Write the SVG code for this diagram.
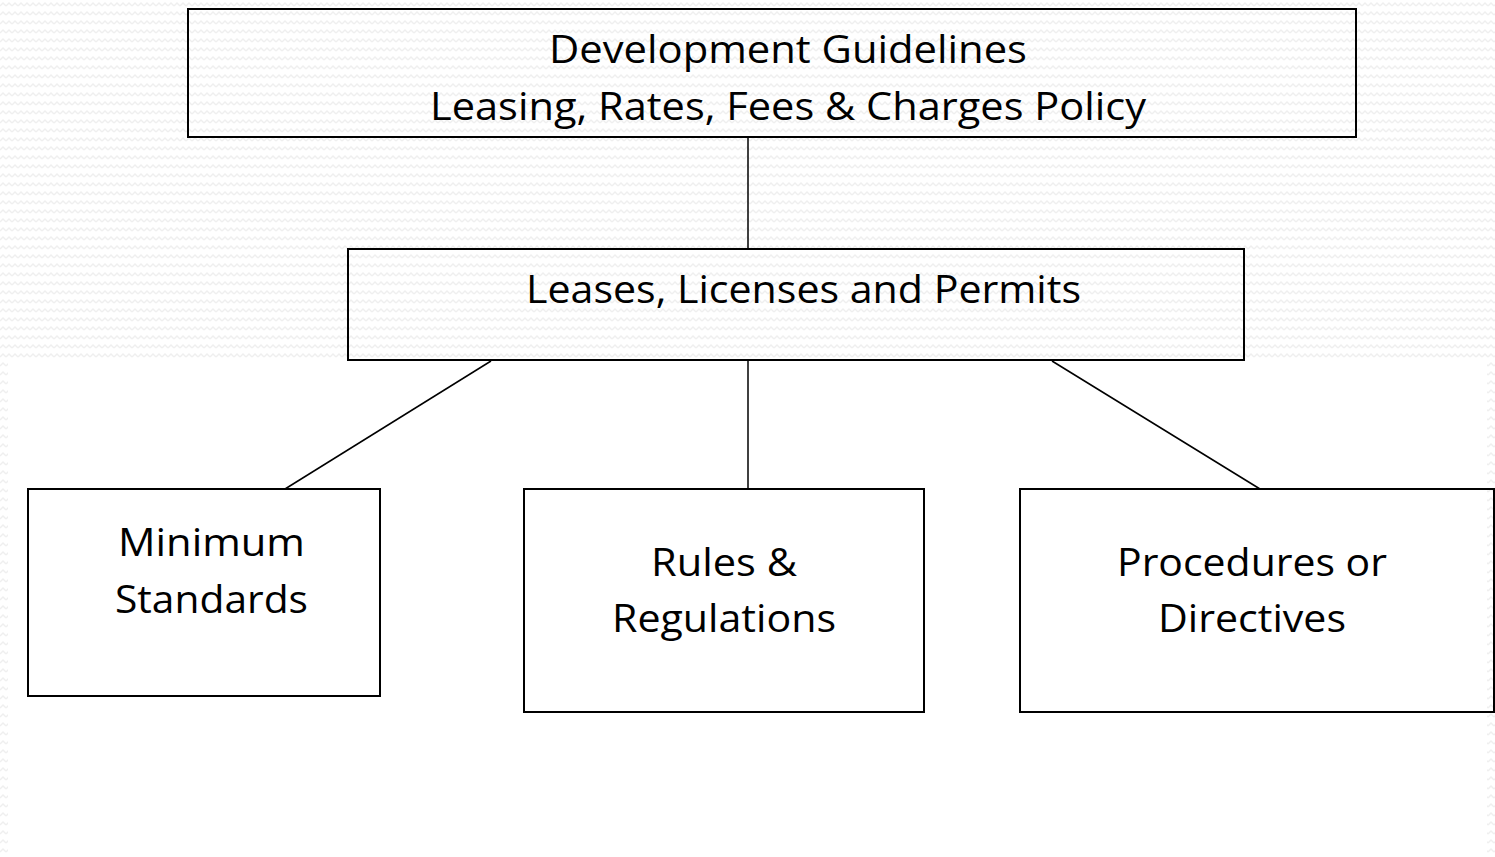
<svg xmlns="http://www.w3.org/2000/svg" width="1495" height="857" viewBox="0 0 1495 857">
<defs>
<pattern id="zz" width="6" height="9" patternUnits="userSpaceOnUse">
<rect width="6" height="9" fill="#ffffff"/>
<path d="M0,6 L3,3 L6,6" fill="none" stroke="#efefef" stroke-width="1.4"/>
</pattern>
<style>
.box{fill:none;stroke:#000;stroke-width:2}
.con{fill:none;stroke:#000;stroke-width:1.5}
.t{font-family:"Open Sans","Liberation Sans",sans-serif;font-size:39px;fill:#000;text-anchor:middle}
</style>
</defs>
<rect x="0" y="0" width="1495" height="857" fill="url(#zz)"/>
<rect x="8" y="358" width="1479" height="499" fill="#ffffff"/>
<g id="connectors">
<line class="con" x1="748" y1="137" x2="748" y2="249"/>
<line class="con" x1="491" y1="361" x2="285" y2="489"/>
<line class="con" x1="748" y1="361" x2="748" y2="489"/>
<line class="con" x1="1052" y1="361" x2="1260" y2="489"/>
</g>
<g id="node-top">
<rect class="box" x="188" y="9" width="1168" height="128"/>
<text class="t" x="788" y="63" textLength="478" lengthAdjust="spacingAndGlyphs">Development Guidelines</text>
<text class="t" x="788" y="120" textLength="716" lengthAdjust="spacingAndGlyphs">Leasing, Rates, Fees &amp; Charges Policy</text>
</g>
<g id="node-leases">
<rect class="box" x="348" y="249" width="896" height="111"/>
<text class="t" x="803.5" y="303" textLength="555" lengthAdjust="spacingAndGlyphs">Leases, Licenses and Permits</text>
</g>
<g id="node-minimum">
<rect class="box" x="28" y="489" width="352" height="207"/>
<text class="t" x="211.5" y="556" textLength="187" lengthAdjust="spacingAndGlyphs">Minimum</text>
<text class="t" x="211.5" y="613" textLength="193" lengthAdjust="spacingAndGlyphs">Standards</text>
</g>
<g id="node-rules">
<rect class="box" x="524" y="489" width="400" height="223"/>
<text class="t" x="724" y="576" textLength="146" lengthAdjust="spacingAndGlyphs">Rules &amp;</text>
<text class="t" x="724" y="632" textLength="224" lengthAdjust="spacingAndGlyphs">Regulations</text>
</g>
<g id="node-procedures">
<rect class="box" x="1020" y="489" width="474" height="223"/>
<text class="t" x="1252" y="576" textLength="270" lengthAdjust="spacingAndGlyphs">Procedures or</text>
<text class="t" x="1252" y="632" textLength="188" lengthAdjust="spacingAndGlyphs">Directives</text>
</g>
</svg>
